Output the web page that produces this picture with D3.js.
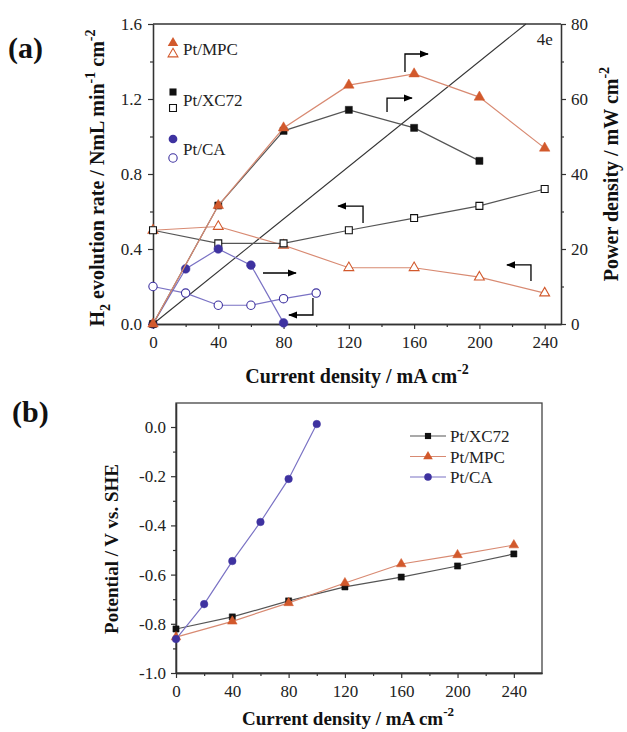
<!DOCTYPE html>
<html>
<head>
<meta charset="utf-8">
<script src="https://cdn.jsdelivr.net/npm/d3@7"></script>
<style>
  body { margin: 0; background: #fff; }
  svg text { font-family: "Liberation Serif", "Times New Roman", serif; }
</style>
</head>
<body>
<svg width="627" height="732"></svg>
<script>
// ---- panel (a) data ----
const aX = [0, 40, 80, 120, 160, 200, 240];
const mpcPower = [0, 31.6, 52.3, 63.7, 66.7, 60.5, 46.9];      // mW cm-2
const xc72PowerX = [0, 40, 80, 120, 160, 200];
const xc72Power = [0, 31.6, 51.5, 57.1, 52.3, 43.5];
const caPowerX = [0, 20, 40, 60, 80];
const caPower = [0, 14.7, 20.0, 15.7, 0.3];
const mpcH2 = [0.50, 0.52, 0.42, 0.30, 0.30, 0.25, 0.165];       // NmL min-1 cm-2
const xc72H2 = [0.50, 0.43, 0.43, 0.50, 0.565, 0.63, 0.72];
const caH2X = [0, 20, 40, 60, 80, 100];
const caH2 = [0.20, 0.165, 0.10, 0.10, 0.135, 0.165];
const line4e = [[0, 0], [228.5, 1.6]];
// arrows, in (current density, H2 rate) units
const arrowsA = [
  [[154.4, 1.344], [154.4, 1.44], [168.5, 1.44]],
  [[143.4, 1.131], [143.4, 1.205], [158.7, 1.205]],
  [[128.7, 0.539], [128.7, 0.629], [113.4, 0.629]],
  [[231.6, 0.229], [231.6, 0.315], [216.9, 0.315]],
  [[67.4, 0.272], [87.6, 0.272]],
  [[98, 0.139], [98, 0.048], [83.3, 0.048]]
];
const xTicks = [0, 40, 80, 120, 160, 200, 240];
const xMinor = [20, 60, 100, 140, 180, 220];
const h2Ticks = [0, 0.4, 0.8, 1.2, 1.6];
const h2Minor = [0.2, 0.6, 1.0, 1.4];
const powTicks = [0, 20, 40, 60, 80];
const powMinor = [10, 30, 50, 70];

// ---- panel (b) data ----
const bX = [0, 40, 80, 120, 160, 200, 240];
const xc72Pot = [-0.821, -0.772, -0.707, -0.650, -0.610, -0.565, -0.516];
const mpcPot = [-0.854, -0.790, -0.715, -0.634, -0.557, -0.520, -0.480];
const caPotX = [0, 20, 40, 60, 80, 100];
const caPot = [-0.862, -0.720, -0.545, -0.386, -0.211, 0.012];
const potTicks = [-1.0, -0.8, -0.6, -0.4, -0.2, 0.0];
const potMinor = [-0.9, -0.7, -0.5, -0.3, -0.1];
const legendB = ['Pt/XC72', 'Pt/MPC', 'Pt/CA'];

const cMPC = '#d2592c', lMPC = '#d88a72';
const cXC = '#111', lXC = '#555';
const cCA = '#3e32a0', lCA = '#7a72c4';

const svg = d3.select('svg');
svg.append('defs').append('marker')
  .attr('id', 'head').attr('viewBox', '0 0 10 10')
  .attr('refX', 9).attr('refY', 5)
  .attr('markerWidth', 9).attr('markerHeight', 9)
  .attr('markerUnits', 'userSpaceOnUse')
  .attr('orient', 'auto')
  .append('path').attr('d', 'M0,1 L10,5 L0,9 Z').attr('fill', '#000');

function styleAxis(g) {
  g.selectAll('path').attr('stroke', '#333').attr('stroke-width', 1.3);
  g.selectAll('line').attr('stroke', '#333').attr('stroke-width', 1.2);
  g.selectAll('text').attr('font-size', 17).attr('fill', '#222')
    .attr('font-family', '"Liberation Serif", serif');
}

function series(g, xs, ys, xsc, ysc, lineCol, markCol, sym, size, open) {
  const pts = xs.map((x, i) => [x, ys[i]]);
  g.append('path').datum(pts)
    .attr('fill', 'none').attr('stroke', lineCol).attr('stroke-width', 1.2)
    .attr('d', d3.line().x(d => xsc(d[0])).y(d => ysc(d[1])));
  g.selectAll(null).data(pts).enter().append('path')
    .attr('transform', d => `translate(${xsc(d[0])},${ysc(d[1])})`)
    .attr('d', d3.symbol().type(sym).size(size))
    .attr('fill', open ? '#fff' : markCol)
    .attr('stroke', markCol).attr('stroke-width', open ? 1.1 : 0.5);
}

// ================= panel (a) =================
{
  const m = { left: 153, top: 24 }, w = 408, h = 300;
  const g = svg.append('g').attr('transform', `translate(${m.left},${m.top})`);
  const x = d3.scaleLinear().domain([0, 250]).range([0, w]);
  const yL = d3.scaleLinear().domain([0, 1.6]).range([h, 0]);
  const yR = d3.scaleLinear().domain([0, 80]).range([h, 0]);

  g.append('line').attr('x1', 0).attr('x2', w).attr('y1', 0).attr('y2', 0)
    .attr('stroke', '#333').attr('stroke-width', 1.3);

  const ax = g.append('g').attr('transform', `translate(0,${h})`)
    .call(d3.axisBottom(x).tickValues(xTicks).tickSize(5).tickPadding(7).tickSizeOuter(0));
  g.append('g').attr('transform', `translate(0,${h})`)
    .call(d3.axisBottom(x).tickValues(xMinor).tickSize(3).tickFormat('').tickSizeOuter(0)).call(styleAxis);
  styleAxis(ax);
  const al = g.append('g')
    .call(d3.axisLeft(yL).tickValues(h2Ticks).tickFormat(d3.format('.1f')).tickSize(5).tickPadding(6).tickSizeOuter(0));
  styleAxis(al);
  g.append('g').call(d3.axisLeft(yL).tickValues(h2Minor).tickSize(3).tickFormat('').tickSizeOuter(0)).call(styleAxis);
  const ar = g.append('g').attr('transform', `translate(${w},0)`)
    .call(d3.axisRight(yR).tickValues(powTicks).tickSize(5).tickPadding(5).tickSizeOuter(0));
  styleAxis(ar);
  g.append('g').attr('transform', `translate(${w},0)`)
    .call(d3.axisRight(yR).tickValues(powMinor).tickSize(3).tickFormat('').tickSizeOuter(0)).call(styleAxis);

  // theoretical 4e line
  g.append('path').datum(line4e)
    .attr('fill', 'none').attr('stroke', '#333').attr('stroke-width', 1.1)
    .attr('d', d3.line().x(d => x(d[0])).y(d => yL(d[1])));
  g.append('text').attr('x', x(240)).attr('y', yL(1.49)).attr('text-anchor', 'middle')
    .attr('font-size', 17).attr('fill', '#222').text('4e');

  // H2 rate (open)
  series(g, caH2X, caH2, x, yL, lCA, cCA, d3.symbolCircle, 55, true);
  series(g, aX, mpcH2, x, yL, lMPC, cMPC, d3.symbolTriangle, 42, true);
  series(g, aX, xc72H2, x, yL, lXC, cXC, d3.symbolSquare, 48, true);
  // power density (filled)
  series(g, caPowerX, caPower, x, yR, lCA, cCA, d3.symbolCircle, 60, false);
  series(g, xc72PowerX, xc72Power, x, yR, lXC, cXC, d3.symbolSquare, 50, false);
  series(g, aX, mpcPower, x, yR, lMPC, cMPC, d3.symbolTriangle, 48, false);

  // arrows
  arrowsA.forEach(a => {
    g.append('path').datum(a)
      .attr('fill', 'none').attr('stroke', '#000').attr('stroke-width', 1.3)
      .attr('marker-end', 'url(#head)')
      .attr('d', d3.line().x(d => x(d[0])).y(d => yL(d[1])));
  });

  // legend
  const leg = [
    ['Pt/MPC', d3.symbolTriangle, cMPC, 48, 42, 19, 30],
    ['Pt/XC72', d3.symbolSquare, cXC, 50, 48, 68, 84],
    ['Pt/CA', d3.symbolCircle, cCA, 60, 55, 115, 134]
  ];
  leg.forEach(([name, sym, col, s1, s2, y1, y2]) => {
    g.append('path').attr('transform', `translate(20,${y1})`)
      .attr('d', d3.symbol().type(sym).size(s1)).attr('fill', col);
    g.append('path').attr('transform', `translate(20,${y2})`)
      .attr('d', d3.symbol().type(sym).size(s2)).attr('fill', '#fff')
      .attr('stroke', col).attr('stroke-width', 1.1);
    g.append('text').attr('x', 30).attr('y', (y1 + y2) / 2 + 6)
      .attr('font-size', 17).attr('fill', '#222').text(name);
  });

  // titles
  const xt = svg.append('text').attr('x', m.left + w / 2).attr('y', 383)
    .attr('text-anchor', 'middle').attr('font-size', 20).attr('font-weight', 'bold').attr('fill', '#111');
  xt.append('tspan').text('Current density / mA cm');
  xt.append('tspan').attr('dy', -9).attr('font-size', 14).text('-2');

  const yt = svg.append('text').attr('transform', `translate(104,${m.top + h / 2 + 4}) rotate(-90)`)
    .attr('text-anchor', 'middle').attr('font-size', 20).attr('font-weight', 'bold').attr('fill', '#111');
  yt.append('tspan').text('H');
  yt.append('tspan').attr('dy', 6).attr('font-size', 14).text('2');
  yt.append('tspan').attr('dy', -6).text(' evolution rate / NmL min');
  yt.append('tspan').attr('dy', -9).attr('font-size', 14).text('-1');
  yt.append('tspan').attr('dy', 9).text(' cm');
  yt.append('tspan').attr('dy', -9).attr('font-size', 14).text('-2');

  const rt = svg.append('text').attr('transform', `translate(618,${m.top + h / 2}) rotate(-90)`)
    .attr('text-anchor', 'middle').attr('font-size', 20).attr('font-weight', 'bold').attr('fill', '#111');
  rt.append('tspan').text('Power density / mW cm');
  rt.append('tspan').attr('dy', -9).attr('font-size', 14).text('-2');

  svg.append('text').attr('x', 8).attr('y', 58).attr('font-size', 30)
    .attr('font-weight', 'bold').attr('fill', '#111').text('(a)');
}

// ================= panel (b) =================
{
  const m = { left: 176, top: 403 }, w = 366, h = 270;
  const g = svg.append('g').attr('transform', `translate(${m.left},${m.top})`);
  const x = d3.scaleLinear().domain([0, 260]).range([0, w]);
  const y = d3.scaleLinear().domain([-1.0, 0.0976]).range([h, 0]);

  g.append('rect').attr('width', w).attr('height', h)
    .attr('fill', 'none').attr('stroke', '#444').attr('stroke-width', 1.3);

  const ax = g.append('g').attr('transform', `translate(0,${h})`)
    .call(d3.axisBottom(x).tickValues(xTicks).tickSize(5).tickPadding(7).tickSizeOuter(0));
  styleAxis(ax);
  g.append('g').attr('transform', `translate(0,${h})`)
    .call(d3.axisBottom(x).tickValues(xMinor).tickSize(3).tickFormat('').tickSizeOuter(0)).call(styleAxis);
  const ay = g.append('g')
    .call(d3.axisLeft(y).tickValues(potTicks).tickFormat(d => d.toFixed(1)).tickSize(5).tickPadding(5).tickSizeOuter(0));
  styleAxis(ay);
  g.append('g').call(d3.axisLeft(y).tickValues(potMinor).tickSize(3).tickFormat('').tickSizeOuter(0)).call(styleAxis);

  series(g, bX, xc72Pot, x, y, lXC, cXC, d3.symbolSquare, 38, false);
  series(g, bX, mpcPot, x, y, lMPC, cMPC, d3.symbolTriangle, 40, false);
  series(g, caPotX, caPot, x, y, lCA, cCA, d3.symbolCircle, 45, false);

  const legCols = [[lXC, cXC, d3.symbolSquare, 38], [lMPC, cMPC, d3.symbolTriangle, 40], [lCA, cCA, d3.symbolCircle, 45]];
  legendB.forEach((name, i) => {
    const ly = 33 + i * 20.5;
    g.append('line').attr('x1', 234).attr('x2', 270).attr('y1', ly).attr('y2', ly)
      .attr('stroke', legCols[i][0]).attr('stroke-width', 1.2);
    g.append('path').attr('transform', `translate(252,${ly})`)
      .attr('d', d3.symbol().type(legCols[i][2]).size(legCols[i][3])).attr('fill', legCols[i][1]);
    g.append('text').attr('x', 274).attr('y', ly + 6).attr('font-size', 17)
      .attr('fill', '#222').text(name);
  });

  const xt = svg.append('text').attr('x', 348).attr('y', 725)
    .attr('text-anchor', 'middle').attr('font-size', 19).attr('font-weight', 'bold').attr('fill', '#111');
  xt.append('tspan').text('Current density / mA cm');
  xt.append('tspan').attr('dy', -9).attr('font-size', 13).text('-2');

  svg.append('text').attr('transform', `translate(118,549) rotate(-90)`)
    .attr('text-anchor', 'middle').attr('font-size', 19).attr('font-weight', 'bold')
    .attr('fill', '#111').text('Potential / V vs. SHE');

  svg.append('text').attr('x', 12).attr('y', 422).attr('font-size', 30)
    .attr('font-weight', 'bold').attr('fill', '#111').text('(b)');
}
</script>
</body>
</html>
